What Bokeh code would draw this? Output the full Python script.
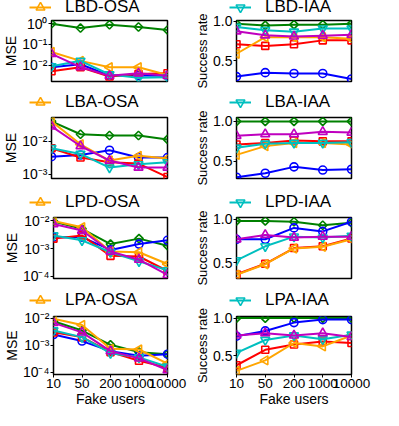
import math
from bokeh.plotting import figure
from bokeh.layouts import column, row
from bokeh.models import Range1d, FixedTicker, Legend, LegendItem
from bokeh.embed import file_html
from bokeh.resources import INLINE

users = ["10", "50", "200", "1000", "10000"]

# ---- MSE panels (left column) ----
lbd_osa = {
    "orange": [0.043, 0.016, 0.0078, 0.0078, 0.0033],
    "green": [1.0, 0.62, 0.9, 0.7, 0.5],
    "blue": [0.0078, 0.011, 0.0031, 0.0031, 0.003],
    "red": [0.005, 0.0078, 0.0028, 0.0037, 0.004],
    "cyan": [0.0087, 0.016, 0.0035, 0.0024, 0.0026],
    "magenta": [0.035, 0.008, 0.003, 0.004, 0.003],
}
lba_osa = {
    "orange": [0.039, 0.0080, 0.0026, 0.0036, 0.0030],
    "green": [0.039, 0.016, 0.0147, 0.0147, 0.0112],
    "blue": [0.0034, 0.0038, 0.0053, 0.0032, 0.0032],
    "red": [0.0061, 0.0032, 0.0023, 0.0021, 0.00083],
    "cyan": [0.0061, 0.0041, 0.0016, 0.0020, 0.0023],
    "magenta": [0.0276, 0.0071, 0.0026, 0.0016, 0.0016],
}
lpd_osa = {
    "orange": [0.010, 0.0059, 0.00079, 0.00074, 0.00028],
    "green": [0.0096, 0.0052, 0.00146, 0.0023, 0.00128],
    "blue": [0.0026, 0.0026, 0.0009, 0.00146, 0.002],
    "red": [0.0023, 0.0030, 0.00055, 0.00052, 0.000156],
    "cyan": [0.0030, 0.0020, 0.00074, 0.00035, 0.000165],
    "magenta": [0.0077, 0.0045, 0.00079, 0.0004, 0.000113],
}
lpa_osa = {
    "orange": [0.0095, 0.0056, 0.00074, 0.00070, 0.00021],
    "green": [0.0077, 0.0035, 0.00104, 0.00056, 0.00047],
    "blue": [0.0025, 0.00143, 0.00061, 0.00041, 0.00047],
    "red": [0.0030, 0.0020, 0.00056, 0.00027, 0.00015],
    "cyan": [0.0035, 0.0020, 0.00051, 0.00036, 0.000162],
    "magenta": [0.0067, 0.0030, 0.00061, 0.00033, 0.000123],
}

# ---- Success rate panels (right column) ----
lbd_iaa = {
    "orange": [0.59, 0.80, 0.80, 0.80, 0.78],
    "green": [0.97, 0.95, 0.96, 0.96, 0.97],
    "blue": [0.30, 0.35, 0.34, 0.34, 0.27],
    "red": [0.71, 0.69, 0.71, 0.76, 0.76],
    "magenta": [0.875, 0.825, 0.81, 0.82, 0.83],
    "cyan": [0.93, 0.89, 0.87, 0.91, 0.91],
}
lba_iaa = {
    "orange": [0.58, 0.69, 0.73, 0.73, 0.71],
    "green": [1.0, 1.0, 1.0, 1.0, 1.0],
    "blue": [0.30, 0.35, 0.43, 0.39, 0.40],
    "red": [0.71, 0.73, 0.76, 0.75, 0.75],
    "magenta": [0.82, 0.84, 0.84, 0.87, 0.86],
    "cyan": [0.67, 0.72, 0.73, 0.73, 0.74],
}
lpd_iaa = {
    "orange": [0.365, 0.485, 0.665, 0.685, 0.77],
    "green": [0.98, 0.98, 0.97, 0.93, 0.96],
    "blue": [0.77, 0.77, 0.90, 0.86, 0.97],
    "red": [0.37, 0.49, 0.67, 0.69, 0.78],
    "magenta": [0.77, 0.82, 0.79, 0.80, 0.80],
    "cyan": [0.53, 0.69, 0.80, 0.79, 0.81],
}
lpa_iaa = {
    "orange": [0.30, 0.44, 0.67, 0.625, 0.77],
    "green": [1.0, 1.0, 1.0, 1.0, 1.0],
    "blue": [0.76, 0.83, 0.94, 0.98, 0.98],
    "red": [0.375, 0.58, 0.65, 0.69, 0.67],
    "magenta": [0.77, 0.80, 0.77, 0.80, 0.75],
    "cyan": [0.54, 0.71, 0.77, 0.72, 0.78],
}

left_titles = ["LBD-OSA", "LBA-OSA", "LPD-OSA", "LPA-OSA"]
right_titles = ["LBD-IAA", "LBA-IAA", "LPD-IAA", "LPA-IAA"]
left_data = [lbd_osa, lba_osa, lpd_osa, lpa_osa]
right_data = [lbd_iaa, lba_iaa, lpd_iaa, lpa_iaa]
left_ranges = [(0.0016, 1.44), (0.00075, 0.051), (0.0000837, 0.0133), (0.0000839, 0.0115)]
right_ranges = [(0.2375, 1.0125), (0.284, 1.049), (0.322, 1.019), (0.2525, 1.021)]

mse_ticks = [1e-4, 1e-3, 1e-2, 1e-1, 1.0]
mse_labels = ["10\u207b\u2074", "10\u207b\u00b3", "10\u207b\u00b2", "10\u207b\u00b9", "10\u2070"]
sr_ticks = [0.5, 1.0]
sr_labels = ["0.5", "1.0"]

STYLE = {
    "orange": ("#FFA500", "triangle", math.pi / 2, 9),
    "green": ("#008000", "square", math.pi / 4, 6),
    "blue": ("#0000FF", "circle", 0.0, 8),
    "red": ("#FF0000", "square", 0.0, 7),
    "cyan": ("#00BFBF", "inverted_triangle", 0.0, 9),
    "magenta": ("#BF00BF", "triangle", 0.0, 9),
}
FONT = "Liberation Sans"
COL_W = [192, 191]
COL_BL = [51, 43]
COL_BR = [25, 32]
LEG_X = [29, 37]

# vertical layout (px): legend strip, then plot (top border, frame, bottom border)
leg_h = [13, 22, 24, 22]
leg_vy = [-5.5, -3.5, -4, -4]
p_top = [7, 7, 7, 8]
p_frame = [61, 61, 61, 58]
p_bot = [7, 8, 8, 36]

xs = list(range(len(users)))


def style_axis(ax, label_size="14px", tick_size="14px"):
    ax.axis_line_color = None
    ax.major_tick_line_color = "black"
    ax.major_tick_line_width = 1
    ax.major_tick_out = 3
    ax.major_tick_in = 0
    ax.minor_tick_line_color = None
    ax.major_label_standoff = 1
    ax.axis_label_standoff = 0
    ax.major_label_text_font = FONT
    ax.major_label_text_font_size = tick_size
    ax.major_label_text_color = "black"
    ax.axis_label_text_font = FONT
    ax.axis_label_text_font_size = label_size
    ax.axis_label_text_font_style = "normal"
    ax.axis_label_text_color = "black"


def make_legend_fig(r, col):
    is_left = col == 0
    data = left_data[r] if is_left else right_data[r]
    title = left_titles[r] if is_left else right_titles[r]
    key = "orange" if is_left else "cyan"
    color, marker, angle, size = STYLE[key]
    f = figure(width=COL_W[col], height=leg_h[r], output_backend="svg",
               toolbar_location=None, title=None,
               x_axis_location=None, y_axis_location=None,
               x_range=Range1d(0, len(users) - 1), y_range=Range1d(5, 6),
               min_border=0)
    f.outline_line_color = None
    f.grid.visible = False
    lr = f.line(xs, data[key], line_color=color, line_width=2)
    sr = f.scatter(xs, data[key], marker=marker, angle=angle, size=size,
                   line_color=color, line_width=1.6, fill_color=None)
    legend = Legend(items=[LegendItem(label=title, renderers=[lr, sr])],
                    location=(LEG_X[col], leg_vy[r]), orientation="horizontal",
                    padding=0, margin=0, spacing=0, border_line_color=None,
                    background_fill_alpha=0, glyph_width=22, glyph_height=24,
                    label_standoff=14, label_text_font=FONT,
                    label_text_font_size="17px", label_text_color="black")
    f.add_layout(legend)
    return f


def make_panel(r, col):
    is_left = col == 0
    data = left_data[r] if is_left else right_data[r]
    yr = left_ranges[r] if is_left else right_ranges[r]
    h = p_top[r] + p_frame[r] + p_bot[r]
    p = figure(width=COL_W[col], height=h, output_backend="svg", toolbar_location=None,
               title=None,
               x_axis_location="below" if r == 3 else None,
               x_range=Range1d(0, len(users) - 1), y_range=Range1d(*yr),
               y_axis_type="log" if is_left else "linear",
               min_border_left=COL_BL[col], min_border_right=COL_BR[col],
               min_border_top=p_top[r], min_border_bottom=p_bot[r])
    p.grid.visible = False
    p.outline_line_color = "black"
    p.outline_line_width = 1.5
    p.outline_line_alpha = 1.0
    for key in ["green", "blue", "red", "orange", "cyan", "magenta"]:
        color, marker, angle, size = STYLE[key]
        p.line(xs, data[key], line_color=color, line_width=2)
        p.scatter(xs, data[key], marker=marker, angle=angle, size=size,
                  line_color=color, line_width=1.6, fill_color=None)
    yax = p.yaxis[0]
    if is_left:
        yax.ticker = FixedTicker(ticks=mse_ticks, minor_ticks=[])
        yax.major_label_overrides = dict(zip(mse_ticks, mse_labels))
        yax.axis_label = "MSE"
        style_axis(yax, label_size="14px")
    else:
        yax.ticker = FixedTicker(ticks=sr_ticks, minor_ticks=[])
        yax.major_label_overrides = dict(zip(sr_ticks, sr_labels))
        yax.axis_label = "Success rate"
        style_axis(yax, label_size="13px")
    if r == 3:
        xax = p.xaxis[0]
        xax.ticker = FixedTicker(ticks=xs, minor_ticks=[])
        xax.major_label_overrides = {i: u for i, u in enumerate(users)}
        xax.axis_label = "Fake users"
        style_axis(xax, label_size="14px", tick_size="13.5px")
    return p


blocks = []
for r in range(4):
    blocks.append(row(make_legend_fig(r, 0), make_legend_fig(r, 1)))
    blocks.append(row(make_panel(r, 0), make_panel(r, 1)))
p = column(*blocks)
open("out.html", "w").write(file_html(p, INLINE))
